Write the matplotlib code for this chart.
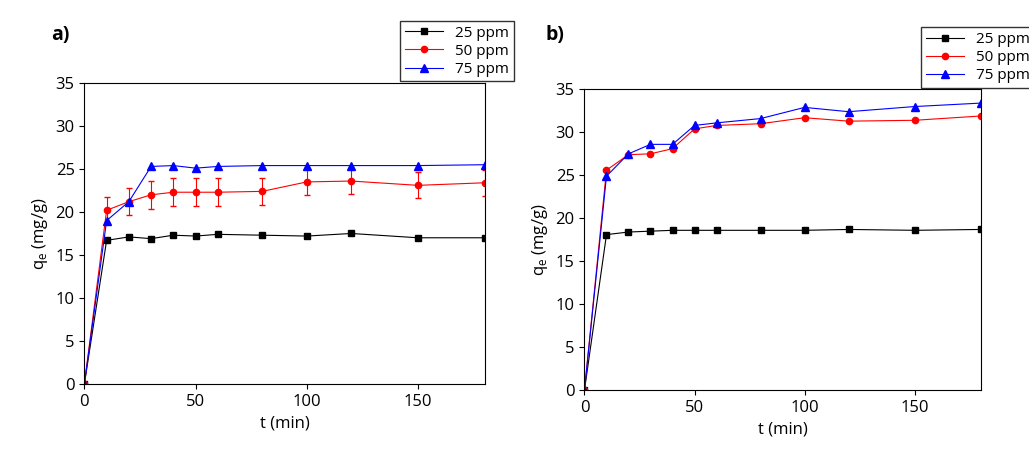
import matplotlib
matplotlib.use("Agg")
import matplotlib.pyplot as plt

t = [0, 10, 20, 30, 40, 50, 60, 80, 100, 120, 150, 180]
a25 = [0, 16.7, 17.1, 16.9, 17.3, 17.2, 17.4, 17.3, 17.2, 17.5, 17.0, 17.0]
a50 = [0, 20.2, 21.2, 22.0, 22.3, 22.3, 22.3, 22.4, 23.5, 23.6, 23.1, 23.4]
a50err = [0, 1.5, 1.6, 1.6, 1.6, 1.6, 1.6, 1.6, 1.5, 1.5, 1.5, 1.5]
a75 = [0, 19.0, 21.2, 25.3, 25.4, 25.1, 25.3, 25.4, 25.4, 25.4, 25.4, 25.5]
b25 = [0, 18.1, 18.4, 18.5, 18.6, 18.6, 18.6, 18.6, 18.6, 18.7, 18.6, 18.7]
b50 = [0, 25.6, 27.4, 27.5, 28.1, 30.4, 30.8, 31.0, 31.7, 31.3, 31.4, 31.9]
b75 = [0, 24.9, 27.5, 28.6, 28.6, 30.8, 31.1, 31.6, 32.9, 32.4, 33.0, 33.4]
labels = ["25 ppm", "50 ppm", "75 ppm"]

plt.rcParams['font.family'] = ['Open Sans', 'DejaVu Sans']
fig = plt.figure(figsize=(10.29, 4.49), dpi=100)
ax1 = fig.add_axes([0.082, 0.145, 0.389, 0.67])
ax2 = fig.add_axes([0.568, 0.131, 0.385, 0.67])

def draw(ax, d25, d50, d75, err=None):
    h1, = ax.plot(t, d25, 'k-s', ms=4.5, lw=0.8)
    if err is not None:
        ax.errorbar(t, d50, yerr=err, fmt='none', ecolor='red', capsize=2, elinewidth=0.8)
    h2, = ax.plot(t, d50, '-o', color='red', ms=4.5, lw=0.8)
    h3, = ax.plot(t, d75, '-^', color='blue', ms=5.5, lw=0.8)
    ax.set_xlim(0, 180)
    ax.set_ylim(0, 35)
    ax.set_xticks([0, 50, 100, 150])
    ax.set_yticks(range(0, 36, 5))
    ax.tick_params(labelsize=12, direction='out')
    ax.set_xlabel("t (min)", fontsize=12)
    ax.set_ylabel("q$_\\mathregular{e}$ (mg/g)", fontsize=12)
    return [h1, h2, h3]

hs1 = draw(ax1, a25, a50, a75, a50err)
hs2 = draw(ax2, b25, b50, b75)
lk = dict(fontsize=11, frameon=True, fancybox=False, edgecolor='black', handlelength=2.5, borderpad=0.3, labelspacing=0.2, loc='lower left')
ax1.legend(hs1, labels, bbox_to_anchor=(0.77, 0.98), **lk)
ax2.legend(hs2, labels, bbox_to_anchor=(0.83, 0.98), **lk)
fig.text(0.05, 0.91, "a)", fontsize=14, fontweight='bold')
fig.text(0.53, 0.91, "b)", fontsize=14, fontweight='bold')
fig.savefig("out.png")
